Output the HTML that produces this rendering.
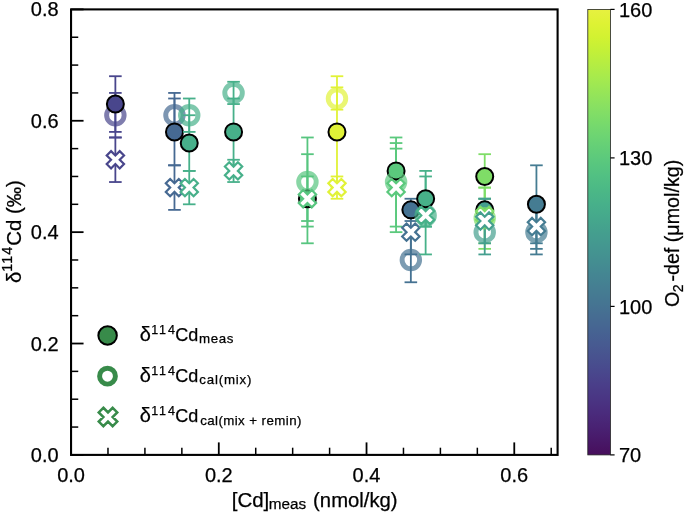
<!DOCTYPE html>
<html><head><meta charset="utf-8"><style>
html,body{margin:0;padding:0;background:#fff;}
svg{display:block;font-family:"Liberation Sans",sans-serif;will-change:transform;}
text{stroke:#000;stroke-width:0.25px;}
</style></head><body>
<svg width="685" height="513" viewBox="0 0 685 513">
<rect width="685" height="513" fill="#fff"/>
<g stroke="#49468c" stroke-width="1.80"><line x1="115.37" y1="92.93" x2="115.37" y2="137.48"/><line x1="109.07" y1="92.93" x2="121.67" y2="92.93"/><line x1="109.07" y1="137.48" x2="121.67" y2="137.48"/></g>
<g stroke="#49468c" stroke-width="1.80"><line x1="115.37" y1="76.22" x2="115.37" y2="131.91"/><line x1="109.07" y1="76.22" x2="121.67" y2="76.22"/><line x1="109.07" y1="131.91" x2="121.67" y2="131.91"/></g>
<g stroke="#49468c" stroke-width="1.80"><line x1="115.37" y1="137.48" x2="115.37" y2="182.03"/><line x1="109.07" y1="137.48" x2="121.67" y2="137.48"/><line x1="109.07" y1="182.03" x2="121.67" y2="182.03"/></g>
<circle cx="115.37" cy="115.21" r="8.75" fill="none" stroke="#49468c" stroke-width="4.95" opacity="0.70"/>
<circle cx="115.37" cy="104.07" r="8.50" fill="#49468c" stroke="#000" stroke-width="2"/>
<path d="M111.05,151.11 L115.37,155.43 L119.70,151.11 L124.02,155.43 L119.70,159.76 L124.02,164.08 L119.70,168.41 L115.37,164.08 L111.05,168.41 L106.72,164.08 L111.05,159.76 L106.72,155.43 Z" fill="#fff" stroke="#49468c" stroke-width="2.20" stroke-linejoin="miter"/>
<g stroke="#466992" stroke-width="1.80"><line x1="174.47" y1="92.93" x2="174.47" y2="137.48"/><line x1="168.17" y1="92.93" x2="180.77" y2="92.93"/><line x1="168.17" y1="137.48" x2="180.77" y2="137.48"/></g>
<g stroke="#466992" stroke-width="1.80"><line x1="174.47" y1="98.50" x2="174.47" y2="165.32"/><line x1="168.17" y1="98.50" x2="180.77" y2="98.50"/><line x1="168.17" y1="165.32" x2="180.77" y2="165.32"/></g>
<g stroke="#466992" stroke-width="1.80"><line x1="174.47" y1="165.32" x2="174.47" y2="209.87"/><line x1="168.17" y1="165.32" x2="180.77" y2="165.32"/><line x1="168.17" y1="209.87" x2="180.77" y2="209.87"/></g>
<circle cx="174.47" cy="115.21" r="8.75" fill="none" stroke="#466992" stroke-width="4.95" opacity="0.70"/>
<circle cx="174.47" cy="131.91" r="8.50" fill="#466992" stroke="#000" stroke-width="2"/>
<path d="M170.14,178.95 L174.47,183.27 L178.79,178.95 L183.12,183.27 L178.79,187.60 L183.12,191.92 L178.79,196.25 L174.47,191.92 L170.14,196.25 L165.82,191.92 L170.14,187.60 L165.82,183.27 Z" fill="#fff" stroke="#466992" stroke-width="2.20" stroke-linejoin="miter"/>
<g stroke="#47b08a" stroke-width="1.80"><line x1="189.24" y1="98.50" x2="189.24" y2="131.91"/><line x1="182.94" y1="98.50" x2="195.54" y2="98.50"/><line x1="182.94" y1="131.91" x2="195.54" y2="131.91"/></g>
<g stroke="#47b08a" stroke-width="1.80"><line x1="189.24" y1="115.21" x2="189.24" y2="170.89"/><line x1="182.94" y1="115.21" x2="195.54" y2="115.21"/><line x1="182.94" y1="170.89" x2="195.54" y2="170.89"/></g>
<g stroke="#47b08a" stroke-width="1.80"><line x1="189.24" y1="170.89" x2="189.24" y2="204.31"/><line x1="182.94" y1="170.89" x2="195.54" y2="170.89"/><line x1="182.94" y1="204.31" x2="195.54" y2="204.31"/></g>
<circle cx="189.24" cy="115.21" r="8.75" fill="none" stroke="#47b08a" stroke-width="4.95" opacity="0.70"/>
<circle cx="189.24" cy="143.05" r="8.50" fill="#47b08a" stroke="#000" stroke-width="2"/>
<path d="M184.92,178.95 L189.24,183.27 L193.57,178.95 L197.89,183.27 L193.57,187.60 L197.89,191.92 L193.57,196.25 L189.24,191.92 L184.92,196.25 L180.59,191.92 L184.92,187.60 L180.59,183.27 Z" fill="#fff" stroke="#47b08a" stroke-width="2.20" stroke-linejoin="miter"/>
<g stroke="#47b08a" stroke-width="1.80"><line x1="233.56" y1="81.79" x2="233.56" y2="104.07"/><line x1="227.26" y1="81.79" x2="239.86" y2="81.79"/><line x1="227.26" y1="104.07" x2="239.86" y2="104.07"/></g>
<g stroke="#47b08a" stroke-width="1.80"><line x1="233.56" y1="98.50" x2="233.56" y2="165.32"/><line x1="227.26" y1="98.50" x2="239.86" y2="98.50"/><line x1="227.26" y1="165.32" x2="239.86" y2="165.32"/></g>
<g stroke="#47b08a" stroke-width="1.80"><line x1="233.56" y1="159.76" x2="233.56" y2="182.03"/><line x1="227.26" y1="159.76" x2="239.86" y2="159.76"/><line x1="227.26" y1="182.03" x2="239.86" y2="182.03"/></g>
<circle cx="233.56" cy="92.93" r="8.75" fill="none" stroke="#47b08a" stroke-width="4.95" opacity="0.70"/>
<circle cx="233.56" cy="131.91" r="8.50" fill="#47b08a" stroke="#000" stroke-width="2"/>
<path d="M229.24,162.24 L233.56,166.57 L237.89,162.24 L242.21,166.57 L237.89,170.89 L242.21,175.22 L237.89,179.54 L233.56,175.22 L229.24,179.54 L224.91,175.22 L229.24,170.89 L224.91,166.57 Z" fill="#fff" stroke="#47b08a" stroke-width="2.20" stroke-linejoin="miter"/>
<g stroke="#57c57f" stroke-width="1.80"><line x1="307.43" y1="137.48" x2="307.43" y2="226.58"/><line x1="301.13" y1="137.48" x2="313.73" y2="137.48"/><line x1="301.13" y1="226.58" x2="313.73" y2="226.58"/></g>
<g stroke="#57c57f" stroke-width="1.80"><line x1="307.43" y1="176.46" x2="307.43" y2="221.01"/><line x1="301.13" y1="176.46" x2="313.73" y2="176.46"/><line x1="301.13" y1="221.01" x2="313.73" y2="221.01"/></g>
<g stroke="#57c57f" stroke-width="1.80"><line x1="307.43" y1="154.19" x2="307.43" y2="243.29"/><line x1="301.13" y1="154.19" x2="313.73" y2="154.19"/><line x1="301.13" y1="243.29" x2="313.73" y2="243.29"/></g>
<circle cx="307.43" cy="198.74" r="8.50" fill="#57c57f" stroke="#000" stroke-width="2"/>
<circle cx="307.43" cy="182.03" r="8.75" fill="none" stroke="#57c57f" stroke-width="4.95" opacity="0.70"/>
<path d="M303.11,190.09 L307.43,194.41 L311.76,190.09 L316.08,194.41 L311.76,198.74 L316.08,203.06 L311.76,207.39 L307.43,203.06 L303.11,207.39 L298.78,203.06 L303.11,198.74 L298.78,194.41 Z" fill="#fff" stroke="#57c57f" stroke-width="2.20" stroke-linejoin="miter"/>
<g stroke="#e1f237" stroke-width="1.80"><line x1="336.98" y1="87.36" x2="336.98" y2="109.64"/><line x1="330.68" y1="87.36" x2="343.28" y2="87.36"/><line x1="330.68" y1="109.64" x2="343.28" y2="109.64"/></g>
<g stroke="#e1f237" stroke-width="1.80"><line x1="336.98" y1="76.23" x2="336.98" y2="187.60"/><line x1="330.68" y1="76.23" x2="343.28" y2="76.23"/><line x1="330.68" y1="187.60" x2="343.28" y2="187.60"/></g>
<g stroke="#e1f237" stroke-width="1.80"><line x1="336.98" y1="176.46" x2="336.98" y2="198.74"/><line x1="330.68" y1="176.46" x2="343.28" y2="176.46"/><line x1="330.68" y1="198.74" x2="343.28" y2="198.74"/></g>
<circle cx="336.98" cy="98.50" r="8.75" fill="none" stroke="#e1f237" stroke-width="4.95" opacity="0.70"/>
<circle cx="336.98" cy="131.91" r="8.50" fill="#e1f237" stroke="#000" stroke-width="2"/>
<path d="M332.66,178.95 L336.98,183.27 L341.31,178.95 L345.63,183.27 L341.31,187.60 L345.63,191.92 L341.31,196.25 L336.98,191.92 L332.66,196.25 L328.33,191.92 L332.66,187.60 L328.33,183.27 Z" fill="#fff" stroke="#e1f237" stroke-width="2.20" stroke-linejoin="miter"/>
<g stroke="#5bc97d" stroke-width="1.80"><line x1="396.08" y1="137.48" x2="396.08" y2="226.58"/><line x1="389.78" y1="137.48" x2="402.38" y2="137.48"/><line x1="389.78" y1="226.58" x2="402.38" y2="226.58"/></g>
<g stroke="#5bc97d" stroke-width="1.80"><line x1="396.08" y1="148.62" x2="396.08" y2="193.17"/><line x1="389.78" y1="148.62" x2="402.38" y2="148.62"/><line x1="389.78" y1="193.17" x2="402.38" y2="193.17"/></g>
<g stroke="#5bc97d" stroke-width="1.80"><line x1="396.08" y1="143.05" x2="396.08" y2="232.15"/><line x1="389.78" y1="143.05" x2="402.38" y2="143.05"/><line x1="389.78" y1="232.15" x2="402.38" y2="232.15"/></g>
<circle cx="396.08" cy="170.89" r="8.50" fill="#5bc97d" stroke="#000" stroke-width="2"/>
<circle cx="396.08" cy="182.03" r="8.75" fill="none" stroke="#5bc97d" stroke-width="4.95" opacity="0.70"/>
<path d="M391.75,178.95 L396.08,183.27 L400.40,178.95 L404.73,183.27 L400.40,187.60 L404.73,191.92 L400.40,196.25 L396.08,191.92 L391.75,196.25 L387.43,191.92 L391.75,187.60 L387.43,183.27 Z" fill="#fff" stroke="#5bc97d" stroke-width="2.20" stroke-linejoin="miter"/>
<g stroke="#457292" stroke-width="1.80"><line x1="410.85" y1="237.72" x2="410.85" y2="282.27"/><line x1="404.55" y1="237.72" x2="417.15" y2="237.72"/><line x1="404.55" y1="282.27" x2="417.15" y2="282.27"/></g>
<g stroke="#457292" stroke-width="1.80"><line x1="410.85" y1="198.74" x2="410.85" y2="221.01"/><line x1="404.55" y1="198.74" x2="417.15" y2="198.74"/><line x1="404.55" y1="221.01" x2="417.15" y2="221.01"/></g>
<g stroke="#457292" stroke-width="1.80"><line x1="410.85" y1="209.87" x2="410.85" y2="254.42"/><line x1="404.55" y1="209.87" x2="417.15" y2="209.87"/><line x1="404.55" y1="254.42" x2="417.15" y2="254.42"/></g>
<circle cx="410.85" cy="259.99" r="8.75" fill="none" stroke="#457292" stroke-width="4.95" opacity="0.70"/>
<circle cx="410.85" cy="209.87" r="8.50" fill="#457292" stroke="#000" stroke-width="2"/>
<path d="M406.53,223.50 L410.85,227.82 L415.18,223.50 L419.50,227.82 L415.18,232.15 L419.50,236.47 L415.18,240.80 L410.85,236.47 L406.53,240.80 L402.20,236.47 L406.53,232.15 L402.20,227.82 Z" fill="#fff" stroke="#457292" stroke-width="2.20" stroke-linejoin="miter"/>
<g stroke="#47b189" stroke-width="1.80"><line x1="425.63" y1="176.46" x2="425.63" y2="254.42"/><line x1="419.33" y1="176.46" x2="431.93" y2="176.46"/><line x1="419.33" y1="254.42" x2="431.93" y2="254.42"/></g>
<g stroke="#47b189" stroke-width="1.80"><line x1="425.63" y1="170.89" x2="425.63" y2="226.58"/><line x1="419.33" y1="170.89" x2="431.93" y2="170.89"/><line x1="419.33" y1="226.58" x2="431.93" y2="226.58"/></g>
<g stroke="#47b189" stroke-width="1.80"><line x1="425.63" y1="204.31" x2="425.63" y2="226.58"/><line x1="419.33" y1="204.31" x2="431.93" y2="204.31"/><line x1="419.33" y1="226.58" x2="431.93" y2="226.58"/></g>
<circle cx="425.63" cy="215.44" r="8.75" fill="none" stroke="#47b189" stroke-width="4.95" opacity="0.70"/>
<circle cx="425.63" cy="198.74" r="8.50" fill="#47b189" stroke="#000" stroke-width="2"/>
<path d="M421.30,206.79 L425.63,211.12 L429.95,206.79 L434.28,211.12 L429.95,215.44 L434.28,219.77 L429.95,224.09 L425.63,219.77 L421.30,224.09 L416.98,219.77 L421.30,215.44 L416.98,211.12 Z" fill="#fff" stroke="#47b189" stroke-width="2.20" stroke-linejoin="miter"/>
<g stroke="#7fdd67" stroke-width="1.80"><line x1="484.72" y1="187.60" x2="484.72" y2="248.86"/><line x1="478.42" y1="187.60" x2="491.02" y2="187.60"/><line x1="478.42" y1="248.86" x2="491.02" y2="248.86"/></g>
<g stroke="#7fdd67" stroke-width="1.80"><line x1="484.72" y1="154.19" x2="484.72" y2="198.74"/><line x1="478.42" y1="154.19" x2="491.02" y2="154.19"/><line x1="478.42" y1="198.74" x2="491.02" y2="198.74"/></g>
<g stroke="#7fdd67" stroke-width="1.80"><line x1="484.72" y1="187.60" x2="484.72" y2="243.29"/><line x1="478.42" y1="187.60" x2="491.02" y2="187.60"/><line x1="478.42" y1="243.29" x2="491.02" y2="243.29"/></g>
<g stroke="#449f8e" stroke-width="1.80"><line x1="484.72" y1="209.87" x2="484.72" y2="254.42"/><line x1="478.42" y1="209.87" x2="491.02" y2="209.87"/><line x1="478.42" y1="254.42" x2="491.02" y2="254.42"/></g>
<g stroke="#449f8e" stroke-width="1.80"><line x1="484.72" y1="198.74" x2="484.72" y2="221.01"/><line x1="478.42" y1="198.74" x2="491.02" y2="198.74"/><line x1="478.42" y1="221.01" x2="491.02" y2="221.01"/></g>
<g stroke="#449f8e" stroke-width="1.80"><line x1="484.72" y1="198.74" x2="484.72" y2="243.29"/><line x1="478.42" y1="198.74" x2="491.02" y2="198.74"/><line x1="478.42" y1="243.29" x2="491.02" y2="243.29"/></g>
<circle cx="484.72" cy="209.87" r="8.50" fill="#449f8e" stroke="#000" stroke-width="2"/>
<circle cx="484.72" cy="232.15" r="8.75" fill="none" stroke="#449f8e" stroke-width="4.95" opacity="0.70"/>
<circle cx="484.72" cy="176.46" r="8.50" fill="#7fdd67" stroke="#000" stroke-width="2"/>
<circle cx="484.72" cy="218.23" r="8.75" fill="none" stroke="#7fdd67" stroke-width="4.95" opacity="0.70"/>
<path d="M480.40,206.79 L484.72,211.12 L489.05,206.79 L493.37,211.12 L489.05,215.44 L493.37,219.77 L489.05,224.09 L484.72,219.77 L480.40,224.09 L476.07,219.77 L480.40,215.44 L476.07,211.12 Z" fill="#fff" stroke="#7fdd67" stroke-width="2.20" stroke-linejoin="miter"/>
<path d="M480.40,212.36 L484.72,216.69 L489.05,212.36 L493.37,216.69 L489.05,221.01 L493.37,225.34 L489.05,229.66 L484.72,225.34 L480.40,229.66 L476.07,225.34 L480.40,221.01 L476.07,216.69 Z" fill="#fff" stroke="#449f8e" stroke-width="2.20" stroke-linejoin="miter"/>
<g stroke="#457c92" stroke-width="1.80"><line x1="536.43" y1="209.87" x2="536.43" y2="254.42"/><line x1="530.13" y1="209.87" x2="542.73" y2="209.87"/><line x1="530.13" y1="254.42" x2="542.73" y2="254.42"/></g>
<g stroke="#457c92" stroke-width="1.80"><line x1="536.43" y1="165.32" x2="536.43" y2="243.29"/><line x1="530.13" y1="165.32" x2="542.73" y2="165.32"/><line x1="530.13" y1="243.29" x2="542.73" y2="243.29"/></g>
<g stroke="#457c92" stroke-width="1.80"><line x1="536.43" y1="204.31" x2="536.43" y2="248.86"/><line x1="530.13" y1="204.31" x2="542.73" y2="204.31"/><line x1="530.13" y1="248.86" x2="542.73" y2="248.86"/></g>
<circle cx="536.43" cy="232.15" r="8.75" fill="none" stroke="#457c92" stroke-width="4.95" opacity="0.70"/>
<circle cx="536.43" cy="204.31" r="8.50" fill="#457c92" stroke="#000" stroke-width="2"/>
<path d="M532.11,217.93 L536.43,222.26 L540.76,217.93 L545.08,222.26 L540.76,226.58 L545.08,230.91 L540.76,235.23 L536.43,230.91 L532.11,235.23 L527.78,230.91 L532.11,226.58 L527.78,222.26 Z" fill="#fff" stroke="#457c92" stroke-width="2.20" stroke-linejoin="miter"/>
<g stroke="#000" stroke-width="1.80"><line x1="71.05" y1="454.90" x2="71.05" y2="442.40" stroke-width="1.80"/><line x1="107.98" y1="454.90" x2="107.98" y2="447.70" stroke-width="1.50"/><line x1="144.92" y1="454.90" x2="144.92" y2="447.70" stroke-width="1.50"/><line x1="181.86" y1="454.90" x2="181.86" y2="447.70" stroke-width="1.50"/><line x1="218.79" y1="454.90" x2="218.79" y2="442.40" stroke-width="1.80"/><line x1="255.73" y1="454.90" x2="255.73" y2="447.70" stroke-width="1.50"/><line x1="292.66" y1="454.90" x2="292.66" y2="447.70" stroke-width="1.50"/><line x1="329.60" y1="454.90" x2="329.60" y2="447.70" stroke-width="1.50"/><line x1="366.53" y1="454.90" x2="366.53" y2="442.40" stroke-width="1.80"/><line x1="403.47" y1="454.90" x2="403.47" y2="447.70" stroke-width="1.50"/><line x1="440.40" y1="454.90" x2="440.40" y2="447.70" stroke-width="1.50"/><line x1="477.34" y1="454.90" x2="477.34" y2="447.70" stroke-width="1.50"/><line x1="514.27" y1="454.90" x2="514.27" y2="442.40" stroke-width="1.80"/><line x1="551.21" y1="454.90" x2="551.21" y2="447.70" stroke-width="1.50"/><line x1="71.05" y1="454.90" x2="83.55" y2="454.90" stroke-width="1.80"/><line x1="71.05" y1="427.06" x2="78.25" y2="427.06" stroke-width="1.50"/><line x1="71.05" y1="399.21" x2="78.25" y2="399.21" stroke-width="1.50"/><line x1="71.05" y1="371.37" x2="78.25" y2="371.37" stroke-width="1.50"/><line x1="71.05" y1="343.52" x2="83.55" y2="343.52" stroke-width="1.80"/><line x1="71.05" y1="315.68" x2="78.25" y2="315.68" stroke-width="1.50"/><line x1="71.05" y1="287.84" x2="78.25" y2="287.84" stroke-width="1.50"/><line x1="71.05" y1="259.99" x2="78.25" y2="259.99" stroke-width="1.50"/><line x1="71.05" y1="232.15" x2="83.55" y2="232.15" stroke-width="1.80"/><line x1="71.05" y1="204.31" x2="78.25" y2="204.31" stroke-width="1.50"/><line x1="71.05" y1="176.46" x2="78.25" y2="176.46" stroke-width="1.50"/><line x1="71.05" y1="148.62" x2="78.25" y2="148.62" stroke-width="1.50"/><line x1="71.05" y1="120.77" x2="83.55" y2="120.77" stroke-width="1.80"/><line x1="71.05" y1="92.93" x2="78.25" y2="92.93" stroke-width="1.50"/><line x1="71.05" y1="65.09" x2="78.25" y2="65.09" stroke-width="1.50"/><line x1="71.05" y1="37.24" x2="78.25" y2="37.24" stroke-width="1.50"/><line x1="71.05" y1="9.40" x2="83.55" y2="9.40" stroke-width="1.80"/></g>
<rect x="71.05" y="9.40" width="486.55" height="445.50" fill="none" stroke="#000" stroke-width="2.1"/>
<g font-size="20" fill="#000"><text x="58.6" y="461.90" text-anchor="end">0.0</text><text x="58.6" y="350.52" text-anchor="end">0.2</text><text x="58.6" y="239.15" text-anchor="end">0.4</text><text x="58.6" y="127.77" text-anchor="end">0.6</text><text x="58.6" y="16.40" text-anchor="end">0.8</text><text x="71.05" y="481.6" text-anchor="middle">0.0</text><text x="218.79" y="481.6" text-anchor="middle">0.2</text><text x="366.53" y="481.6" text-anchor="middle">0.4</text><text x="514.27" y="481.6" text-anchor="middle">0.6</text></g>
<text x="231.7" y="506.5" font-size="20.5">[Cd]</text>
<text x="268.7" y="509.2" font-size="15.3">meas</text>
<text x="313.1" y="506.5" font-size="20.3">(nmol/kg)</text>
<text transform="translate(20.5,283.1) rotate(-90)" font-size="20.4">&#948;<tspan font-size="14.3" dy="-8.2" letter-spacing="1.05">114</tspan><tspan dy="8.2">Cd (&#8240;)</tspan></text>
<defs><linearGradient id="vg" x1="0" y1="1" x2="0" y2="0"><stop offset="0.0000" stop-color="#470e5c"/><stop offset="0.0312" stop-color="#481868"/><stop offset="0.0625" stop-color="#492273"/><stop offset="0.0938" stop-color="#4a2b7c"/><stop offset="0.1250" stop-color="#4a3583"/><stop offset="0.1562" stop-color="#4a3e89"/><stop offset="0.1875" stop-color="#49488d"/><stop offset="0.2188" stop-color="#48528f"/><stop offset="0.2500" stop-color="#475b91"/><stop offset="0.2812" stop-color="#466492"/><stop offset="0.3125" stop-color="#466d92"/><stop offset="0.3438" stop-color="#457692"/><stop offset="0.3750" stop-color="#457e92"/><stop offset="0.4062" stop-color="#448692"/><stop offset="0.4375" stop-color="#448f91"/><stop offset="0.4688" stop-color="#449790"/><stop offset="0.5000" stop-color="#449f8e"/><stop offset="0.5312" stop-color="#45a88c"/><stop offset="0.5625" stop-color="#47b08a"/><stop offset="0.5938" stop-color="#4bb886"/><stop offset="0.6250" stop-color="#51c083"/><stop offset="0.6562" stop-color="#59c77e"/><stop offset="0.6875" stop-color="#63ce78"/><stop offset="0.7188" stop-color="#6ed572"/><stop offset="0.7500" stop-color="#7adb6a"/><stop offset="0.7812" stop-color="#88e062"/><stop offset="0.8125" stop-color="#96e558"/><stop offset="0.8438" stop-color="#a5ea4e"/><stop offset="0.8750" stop-color="#b4ed43"/><stop offset="0.9062" stop-color="#c3f038"/><stop offset="0.9375" stop-color="#d2f231"/><stop offset="0.9688" stop-color="#def234"/><stop offset="1.0000" stop-color="#e7f140"/></linearGradient></defs>
<rect x="587.80" y="9.40" width="22.60" height="445.50" fill="url(#vg)" stroke="#222" stroke-width="0.8"/>
<g stroke="#000" stroke-width="1.2"><line x1="610.40" y1="454.90" x2="614.60" y2="454.90"/><line x1="610.40" y1="306.40" x2="614.60" y2="306.40"/><line x1="610.40" y1="157.90" x2="614.60" y2="157.90"/><line x1="610.40" y1="9.40" x2="614.60" y2="9.40"/></g>
<g font-size="20"><text x="619" y="462.10">70</text><text x="619" y="313.60">100</text><text x="619" y="165.10">130</text><text x="619" y="16.60">160</text></g>
<text transform="translate(678.5,307.1) rotate(-90)" font-size="19.7">O<tspan font-size="14" dy="4.9" dx="-0.4">2</tspan><tspan dy="-4.9" dx="2.8">-def (&#956;mol/kg)</tspan></text>
<circle cx="107.6" cy="335.50" r="9.25" fill="#388b4a" stroke="#000" stroke-width="2"/>
<circle cx="107.5" cy="376.20" r="7.9" fill="none" stroke="#388b4a" stroke-width="4.95"/>
<path d="M103.38,407.75 L108.00,412.38 L112.62,407.75 L117.25,412.38 L112.62,417.00 L117.25,421.62 L112.62,426.25 L108.00,421.62 L103.38,426.25 L98.75,421.62 L103.38,417.00 L98.75,412.38 Z" fill="#fff" stroke="#388b4a" stroke-width="2.5"/>
<text x="139.8" y="341.00" font-size="20" stroke="#000" stroke-width="0.3">&#948;</text>
<text x="151.2" y="333.70" font-size="12.5" letter-spacing="1.9" stroke="#000" stroke-width="0.25">114</text>
<text x="175.3" y="341.00" font-size="18" stroke="#000" stroke-width="0.3">Cd</text>
<text x="199.10" y="343.20" font-size="13.3" letter-spacing="0.60" stroke="#000" stroke-width="0.2">meas</text>
<text x="139.8" y="381.90" font-size="20" stroke="#000" stroke-width="0.3">&#948;</text>
<text x="151.2" y="374.60" font-size="12.5" letter-spacing="1.9" stroke="#000" stroke-width="0.25">114</text>
<text x="175.3" y="381.90" font-size="18" stroke="#000" stroke-width="0.3">Cd</text>
<text x="199.25" y="384.10" font-size="13.3" letter-spacing="0.80" stroke="#000" stroke-width="0.2">cal(mix)</text>
<text x="139.8" y="422.30" font-size="20" stroke="#000" stroke-width="0.3">&#948;</text>
<text x="151.2" y="415.00" font-size="12.5" letter-spacing="1.9" stroke="#000" stroke-width="0.25">114</text>
<text x="175.3" y="422.30" font-size="18" stroke="#000" stroke-width="0.3">Cd</text>
<text x="200.15" y="424.50" font-size="13.3" letter-spacing="0.42" stroke="#000" stroke-width="0.2">cal(mix + remin)</text>
</svg>
</body></html>
